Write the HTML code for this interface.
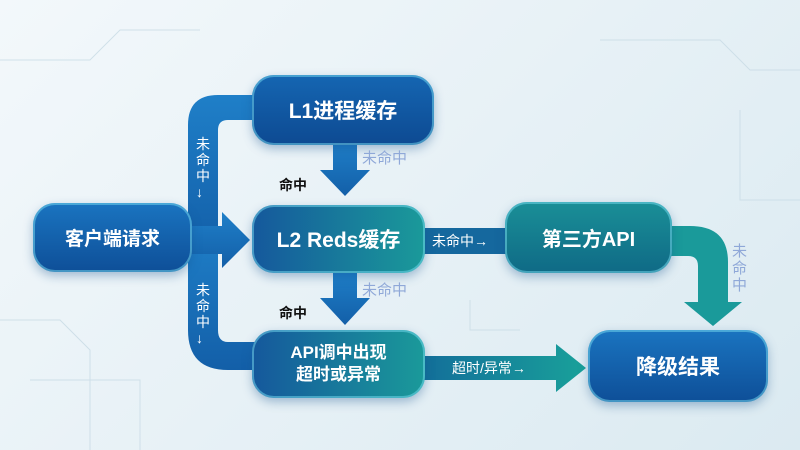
<!DOCTYPE html>
<html><head><meta charset="utf-8"><style>
body{margin:0;width:800px;height:450px;overflow:hidden;background:linear-gradient(135deg,#f3f8fb 0%,#e7f1f6 50%,#dbeaf1 100%);font-family:"Liberation Sans","Noto Sans CJK SC",sans-serif;position:relative}
.n{position:absolute;border-radius:22px;color:#fff;font-weight:bold;display:flex;align-items:center;justify-content:center;text-align:center;box-shadow:0 4px 10px rgba(20,80,140,.35),inset 0 0 0 2px rgba(120,220,240,.5)}
.b{background:linear-gradient(180deg,#1a74c0,#0e4f98)}
.d{background:linear-gradient(180deg,#1566b2,#0d4a92)}
.t{background:linear-gradient(90deg,#15589c,#1a9a9a)}
.g{background:linear-gradient(180deg,#1a8f97,#0f6a86)}
.l{position:absolute;font-size:14px;color:#fff;line-height:16px}
</style></head><body>
<svg width="800" height="450" style="position:absolute;left:0;top:0">
<defs>
<linearGradient id="bl" x1="0" y1="0" x2="0" y2="1"><stop offset="0" stop-color="#1f7fc8"/><stop offset="1" stop-color="#135fa8"/></linearGradient>
<linearGradient id="tl" x1="0" y1="0" x2="1" y2="0"><stop offset="0" stop-color="#136f9a"/><stop offset="1" stop-color="#19a19a"/></linearGradient>
</defs>
<g stroke="#c8dbe5" stroke-width="1" fill="none" opacity=".8">
<path d="M0 60 H90 L120 30 H200"/><path d="M0 320 H60 L90 350 V450"/><path d="M600 40 H720 L750 70 H800"/><path d="M520 330 H470 V300"/><path d="M740 110 V200 H800"/><path d="M30 380 H140 V450"/>
</g>
<path d="M188 250 V125 Q188 95 218 95 H260 V120 H228 Q218 120 218 130 V250 Z" fill="url(#bl)"/>
<path d="M188 230 V330 Q188 370 228 370 H260 V342 H228 Q218 342 218 330 V230 Z" fill="url(#bl)"/>
<path d="M190 226 H222 V212 L250 240 L222 268 V254 H190 Z" fill="url(#bl)"/>
<path d="M333 143 H357 V170 H370 L345 196 L320 170 H333 Z" fill="url(#bl)"/>
<path d="M333 272 H357 V298 H370 L345 325 L320 298 H333 Z" fill="url(#bl)"/>
<rect x="424" y="228" width="84" height="26" fill="#15689e"/>
<path d="M670 226 H690 Q728 226 728 262 V302 H742 L713 326 L684 302 H698 V266 Q698 256 688 256 H670 Z" fill="#1a9a9a"/>
<path d="M424 356 H556 V344 L586 368 L556 392 V380 H424 Z" fill="url(#tl)"/>
</svg>
<div class="n b" style="left:33px;top:203px;width:159px;height:69px;font-size:19px">客户端请求</div>
<div class="n d" style="left:252px;top:75px;width:182px;height:70px;font-size:21px">L1进程缓存</div>
<div class="n t" style="left:252px;top:205px;width:173px;height:68px;font-size:21px">L2 Reds缓存</div>
<div class="n g" style="left:505px;top:202px;width:167px;height:71px;font-size:20px">第三方API</div>
<div class="n t" style="left:252px;top:330px;width:173px;height:68px;font-size:17px;line-height:22px">API调中出现<br>超时或异常</div>
<div class="n b" style="left:588px;top:330px;width:180px;height:72px;font-size:21px">降级结果</div>
<div class="l" style="left:196px;top:136px;width:15px">未命中↓</div>
<div class="l" style="left:196px;top:282px;width:15px">未命中↓</div>
<div class="l" style="left:432px;top:233px">未命中→</div>
<div class="l" style="left:452px;top:360px">超时/异常→</div>
<div class="l" style="left:362px;top:151px;color:#8fa8d8;font-size:15px">未命中</div>
<div class="l" style="left:362px;top:283px;color:#8fa8d8;font-size:15px">未命中</div>
<div class="l" style="left:732px;top:243px;width:16px;color:#8fa8d8;font-size:15px;line-height:17px">未命中</div>
<div class="l" style="left:279px;top:177px;color:#111;font-weight:bold">命中</div>
<div class="l" style="left:279px;top:305px;color:#111;font-weight:bold">命中</div>
</body></html>
